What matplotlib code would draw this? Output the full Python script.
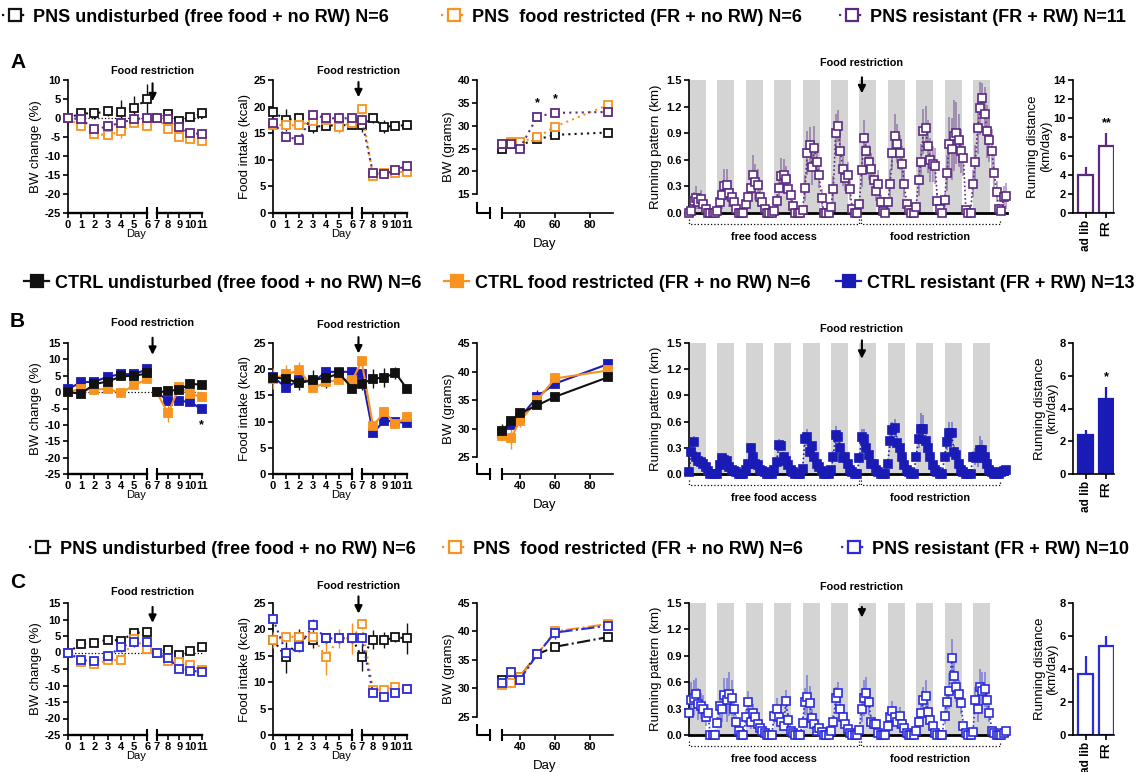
import numpy as np
import matplotlib.pyplot as plt
from matplotlib.lines import Line2D

plt.rcParams['font.family'] = ['Liberation Sans', 'DejaVu Sans']
plt.rcParams['font.weight'] = 'bold'
plt.rcParams['axes.linewidth'] = 1.2
plt.rcParams['axes.unicode_minus'] = False

W, H = 1144, 772

BLACK = '#111111'
ORANGE = '#F7931E'
PURPLE = '#5B2A80'
BLUE_B = '#1A1AB5'
BLUE_C = '#2B2BD9'
GRAY = '#D4D4D4'

days = np.arange(12)
bw_days = [30, 35, 40, 50, 60, 90]
dark_days = np.arange(11)

# ---- row A: PNS, N=6/6/11 ----
a_bwc_und = [0, 1.2, 1.2, 1.8, 1.7, 2.7, 5.0, 0, 1.0, -0.8, 0.2, 1.2]
a_bwc_und_e = [0, 1.2, 1.5, 1.2, 3.0, 3.0, 4.0, 0.4, 1.0, 1.0, 1.0, 1.2]
a_bwc_fr = [0, -2.2, -4.2, -4.5, -3.5, -1.3, -2.0, 0, -2.8, -5.0, -5.5, -6.0]
a_bwc_fr_e = [0, 0.6, 0.6, 0.8, 1.8, 0.6, 0.8, 0.3, 0.6, 0.6, 0.6, 0.6]
a_bwc_res = [0, -0.3, -3.0, -2.2, -1.2, -0.3, 0.0, 0, -0.2, -2.5, -4.0, -4.2]
a_bwc_res_e = [0, 0.8, 1.0, 1.0, 1.0, 0.8, 0.8, 0.3, 0.6, 0.8, 0.8, 0.8]

a_fi_und = [19.0, 17.5, 17.8, 16.2, 16.4, 16.5, 16.5, 16.5, 17.8, 16.2, 16.4, 16.5]
a_fi_und_e = [0.8, 2.0, 0.8, 1.2, 0.8, 0.8, 0.8, 1.2, 0.8, 1.2, 0.5, 0.5]
a_fi_fr = [16.5, 16.5, 16.5, 17.3, 17.5, 16.2, 17.0, 19.5, 7.0, 7.6, 7.6, 7.8]
a_fi_fr_e = [0.8, 0.8, 0.8, 1.5, 0.8, 1.2, 0.8, 0.8, 0.5, 0.5, 0.5, 0.4]
a_fi_res = [17.0, 14.3, 13.8, 18.5, 17.8, 17.8, 17.8, 17.5, 7.5, 7.3, 8.1, 8.9]
a_fi_res_e = [0.8, 0.8, 0.8, 0.8, 0.8, 0.8, 0.8, 0.8, 0.5, 0.5, 0.5, 0.5]

a_bw_und = [25.0, 26.0, 25.8, 27.0, 28.0, 28.5]
a_bw_fr = [26.0, 26.5, 26.5, 27.5, 29.8, 34.5]
a_bw_res = [26.0, 26.0, 25.0, 32.0, 32.8, 33.0]

a_run = [
    0, 0.02, 0.14, 0.17, 0.12, 0.16, 0.10, 0.04, 0, 0, 0, 0,
    0.02, 0.12, 0.20, 0.30, 0.32, 0.22, 0.18, 0.12, 0.04, 0, 0, 0,
    0.10, 0.18, 0.28, 0.43, 0.35, 0.32, 0.18, 0.12, 0.05, 0, 0, 0,
    0.02, 0.13, 0.28, 0.42, 0.43, 0.38, 0.27, 0.20, 0.08, 0, 0, 0,
    0.03, 0.28, 0.68, 0.77, 0.52, 0.73, 0.58, 0.43, 0.17, 0, 0, 0,
    0.07, 0.27, 0.90, 0.98, 0.70, 0.50, 0.40, 0.43, 0.27, 0.05, 0, 0,
    0.10, 0.49, 0.85, 0.70, 0.57, 0.50, 0.37, 0.25, 0.33, 0.12, 0.02, 0,
    0.12, 0.33, 0.68, 0.87, 0.78, 0.68, 0.55, 0.33, 0.10, 0.03, 0, 0,
    0.07, 0.37, 0.58, 0.92, 0.96, 0.75, 0.60, 0.55, 0.53, 0.14, 0.05, 0,
    0.15, 0.45, 0.78, 0.72, 0.87, 0.90, 0.82, 0.70, 0.62, 0.03, 0, 0,
    0.33, 0.57, 0.96, 1.18, 1.30, 1.12, 0.92, 0.82, 0.70, 0.45, 0.24, 0.05,
    0.02, 0.18, 0.19,
]
a_run_e = [
    0, 0.02, 0.10, 0.13, 0.08, 0.10, 0.07, 0.03, 0, 0, 0, 0,
    0.02, 0.08, 0.15, 0.20, 0.18, 0.15, 0.10, 0.08, 0.03, 0, 0, 0,
    0.06, 0.10, 0.15, 0.22, 0.20, 0.18, 0.10, 0.07, 0.03, 0, 0, 0,
    0.02, 0.08, 0.15, 0.20, 0.18, 0.15, 0.12, 0.10, 0.05, 0, 0, 0,
    0.02, 0.15, 0.25, 0.20, 0.20, 0.25, 0.20, 0.15, 0.10, 0, 0, 0,
    0.05, 0.15, 0.22, 0.18, 0.20, 0.20, 0.15, 0.15, 0.12, 0.03, 0, 0,
    0.06, 0.20, 0.20, 0.20, 0.20, 0.18, 0.15, 0.12, 0.15, 0.08, 0.02, 0,
    0.06, 0.15, 0.20, 0.25, 0.22, 0.20, 0.20, 0.15, 0.06, 0.02, 0, 0,
    0.05, 0.18, 0.20, 0.25, 0.25, 0.30, 0.25, 0.20, 0.20, 0.08, 0.03, 0,
    0.08, 0.20, 0.30, 0.35, 0.40, 0.35, 0.30, 0.25, 0.20, 0.02, 0, 0,
    0.15, 0.20, 0.30, 0.30, 0.17, 0.30, 0.30, 0.25, 0.25, 0.20, 0.12, 0.03,
    0.01, 0.12, 0.15,
]
a_dist = [4.0, 7.0]
a_dist_e = [0.8, 1.4]

# ---- row B: CTRL, N=6/6/13 ----
b_bwc_und = [0, -0.5, 2.5, 3.2, 4.8, 5.0, 5.7, 0, 0.3, 0.8, 2.5, 2.3]
b_bwc_und_e = [0.4, 0.6, 0.8, 0.8, 1.0, 0.8, 1.0, 0.3, 0.5, 0.6, 0.6, 0.6]
b_bwc_fr = [0, 1.0, 0.8, 1.0, -0.3, 2.2, 4.0, 0, -6.5, 1.5, -0.5, -1.5]
b_bwc_fr_e = [0.4, 0.8, 0.8, 0.8, 1.2, 0.8, 0.8, 0.3, 2.5, 1.0, 0.8, 1.0]
b_bwc_res = [1.0, 3.0, 3.2, 4.7, 5.5, 5.5, 7.0, 0, -2.7, -2.7, -3.0, -5.3]
b_bwc_res_e = [0.4, 0.6, 0.6, 0.6, 0.8, 0.6, 0.8, 0.3, 0.6, 0.6, 0.6, 0.8]

b_fi_und = [18.4, 18.2, 17.3, 18.0, 18.3, 19.2, 16.3, 17.2, 18.2, 18.4, 19.3, 16.3]
b_fi_und_e = [0.8, 1.2, 1.2, 1.8, 1.8, 1.2, 0.8, 1.2, 1.8, 1.8, 1.2, 0.6]
b_fi_fr = [18.2, 19.0, 19.8, 16.4, 17.5, 18.0, 18.0, 21.5, 9.2, 11.8, 9.6, 10.8]
b_fi_fr_e = [2.0, 1.8, 1.5, 0.8, 0.8, 0.8, 0.8, 0.8, 0.6, 0.8, 0.6, 0.6]
b_fi_res = [18.5, 16.5, 18.0, 17.5, 19.5, 19.5, 19.5, 19.0, 7.8, 10.2, 10.0, 9.7]
b_fi_res_e = [0.6, 0.6, 0.6, 0.6, 0.6, 0.6, 0.6, 0.6, 0.5, 0.5, 0.5, 0.5]

b_bw_und = [29.6, 31.3, 32.7, 34.1, 35.6, 39.0]
b_bw_und_e = [1.2, 0.6, 0.5, 0.5, 0.5, 0.5]
b_bw_fr = [28.8, 28.4, 31.3, 35.0, 38.8, 40.2]
b_bw_fr_e = [0.8, 2.0, 1.0, 0.8, 0.8, 0.5]
b_bw_res = [29.3, 30.7, 31.9, 35.6, 37.9, 41.3]
b_bw_res_e = [0.6, 0.6, 0.6, 1.2, 0.6, 0.5]

b_run = [
    0.02, 0.25, 0.37, 0.20, 0.15, 0.14, 0.12, 0.08, 0.03, 0, 0, 0,
    0, 0.10, 0.18, 0.16, 0.15, 0.08, 0.05, 0.04, 0.02, 0, 0, 0,
    0.05, 0.12, 0.30, 0.20, 0.12, 0.10, 0.05, 0.04, 0.02, 0, 0, 0,
    0.05, 0.14, 0.33, 0.32, 0.20, 0.15, 0.10, 0.05, 0.02, 0, 0, 0,
    0.06, 0.40, 0.42, 0.25, 0.32, 0.20, 0.12, 0.08, 0.03, 0, 0, 0,
    0.05, 0.20, 0.45, 0.42, 0.30, 0.18, 0.20, 0.12, 0.05, 0.02, 0, 0,
    0.18, 0.42, 0.40, 0.30, 0.22, 0.12, 0.12, 0.05, 0.02, 0, 0, 0,
    0.12, 0.38, 0.50, 0.53, 0.35, 0.30, 0.20, 0.10, 0.05, 0.02, 0, 0,
    0.20, 0.40, 0.52, 0.52, 0.38, 0.30, 0.20, 0.10, 0.05, 0.02, 0, 0,
    0.20, 0.37, 0.47, 0.47, 0.25, 0.22, 0.12, 0.05, 0.02, 0, 0, 0,
    0.20, 0.20, 0.18, 0.28, 0.27, 0.20, 0.12, 0.05, 0.02, 0, 0, 0,
    0.02, 0.04, 0.05,
]
b_run_e = [
    0.02, 0.06, 0.06, 0.06, 0.05, 0.04, 0.04, 0.03, 0.01, 0, 0, 0,
    0, 0.03, 0.04, 0.04, 0.03, 0.02, 0.02, 0.02, 0.01, 0, 0, 0,
    0.02, 0.04, 0.06, 0.05, 0.04, 0.03, 0.02, 0.02, 0.01, 0, 0, 0,
    0.02, 0.04, 0.07, 0.06, 0.05, 0.04, 0.03, 0.02, 0.01, 0, 0, 0,
    0.03, 0.08, 0.10, 0.07, 0.06, 0.05, 0.04, 0.03, 0.01, 0, 0, 0,
    0.02, 0.06, 0.10, 0.08, 0.07, 0.05, 0.05, 0.04, 0.02, 0.01, 0, 0,
    0.05, 0.10, 0.12, 0.08, 0.06, 0.04, 0.04, 0.02, 0.01, 0, 0, 0,
    0.04, 0.08, 0.10, 0.10, 0.08, 0.07, 0.05, 0.03, 0.02, 0.01, 0, 0,
    0.05, 0.10, 0.18, 0.15, 0.10, 0.08, 0.06, 0.03, 0.02, 0.01, 0, 0,
    0.05, 0.10, 0.12, 0.12, 0.08, 0.06, 0.04, 0.02, 0.01, 0, 0, 0,
    0.06, 0.10, 0.10, 0.15, 0.12, 0.08, 0.05, 0.02, 0.01, 0, 0, 0,
    0.01, 0.01, 0.01,
]
b_dist = [2.4, 4.6]
b_dist_e = [0.3, 0.7]

# ---- row C: PNS, N=6/6/10 ----
c_bwc_und = [0, 2.7, 2.9, 3.9, 3.6, 6.0, 6.1, 0, 0.9, -0.8, 0.5, 1.7]
c_bwc_und_e = [0.3, 0.5, 0.5, 0.5, 0.6, 0.6, 0.6, 0.3, 0.5, 0.5, 0.5, 0.5]
c_bwc_fr = [0, -2.8, -3.6, -2.3, -2.3, 4.0, 1.2, 0, -2.7, -2.8, -3.8, -5.3]
c_bwc_fr_e = [0.3, 0.8, 0.8, 0.8, 0.8, 1.0, 1.2, 0.3, 0.6, 0.8, 0.6, 0.6]
c_bwc_res = [0, -2.3, -2.6, -1.1, 1.6, 3.2, 3.2, 0, -1.7, -5.0, -5.5, -5.9]
c_bwc_res_e = [0.3, 1.0, 1.2, 1.0, 1.5, 1.5, 1.5, 0.3, 1.0, 0.8, 1.2, 0.8]

c_fi_und = [18.0, 14.7, 18.5, 18.0, 18.3, 18.3, 18.3, 14.7, 18.0, 18.0, 18.5, 18.3]
c_fi_und_e = [1.0, 3.0, 1.5, 1.5, 1.0, 1.0, 1.0, 2.5, 1.8, 1.5, 0.8, 3.0]
c_fi_fr = [18.0, 18.6, 18.6, 18.6, 14.8, 18.3, 18.3, 21.0, 8.6, 8.6, 9.0, 8.7]
c_fi_fr_e = [1.5, 1.0, 1.0, 1.0, 3.5, 1.8, 3.0, 1.0, 0.6, 0.6, 0.6, 0.6]
c_fi_res = [22.0, 15.5, 16.6, 20.8, 18.3, 18.3, 18.3, 18.3, 8.0, 7.2, 8.0, 8.8]
c_fi_res_e = [0.8, 1.2, 0.8, 1.2, 0.8, 0.8, 0.8, 0.8, 0.5, 0.5, 0.5, 0.5]

c_bw_und = [31.5, 31.5, 32.0, 36.0, 37.3, 39.0]
c_bw_und_e = [0.6, 0.6, 0.6, 0.6, 0.6, 0.5]
c_bw_fr = [30.6, 31.0, 32.0, 36.0, 40.0, 41.3]
c_bw_fr_e = [0.6, 0.8, 0.6, 0.6, 0.8, 0.5]
c_bw_res = [31.0, 32.8, 31.5, 36.0, 39.8, 41.0]
c_bw_res_e = [0.8, 1.0, 0.8, 0.6, 1.2, 0.5]

c_run = [
    0.25, 0.40, 0.42, 0.47, 0.35, 0.33, 0.30, 0.20, 0.25, 0, 0, 0,
    0.14, 0.33, 0.30, 0.45, 0.40, 0.47, 0.42, 0.30, 0.15, 0.05, 0, 0,
    0.20, 0.38, 0.15, 0.25, 0.20, 0.12, 0.08, 0.05, 0.02, 0, 0, 0,
    0.22, 0.30, 0.20, 0.15, 0.10, 0.39, 0.17, 0.05, 0.02, 0, 0, 0,
    0.14, 0.38, 0.43, 0.36, 0.19, 0.12, 0.05, 0.08, 0.03, 0, 0, 0,
    0.05, 0.15, 0.42, 0.48, 0.30, 0.20, 0.13, 0.07, 0.02, 0, 0, 0,
    0.06, 0.30, 0.42, 0.48, 0.38, 0.15, 0.13, 0.12, 0.02, 0, 0, 0,
    0.10, 0.20, 0.27, 0.20, 0.15, 0.22, 0.13, 0.08, 0.02, 0, 0, 0,
    0.05, 0.15, 0.25, 0.40, 0.44, 0.26, 0.17, 0.10, 0.02, 0, 0, 0,
    0.22, 0.38, 0.50, 0.87, 0.67, 0.55, 0.47, 0.36, 0.10, 0.02, 0, 0,
    0.03, 0.40, 0.30, 0.55, 0.50, 0.52, 0.40, 0.25, 0.05, 0.02, 0, 0,
    0, 0.02, 0.05,
]
c_run_e = [
    0.15, 0.20, 0.20, 0.18, 0.18, 0.15, 0.15, 0.10, 0.10, 0, 0, 0,
    0.06, 0.15, 0.15, 0.20, 0.25, 0.25, 0.20, 0.15, 0.08, 0.03, 0, 0,
    0.10, 0.12, 0.08, 0.10, 0.10, 0.07, 0.05, 0.03, 0.01, 0, 0, 0,
    0.10, 0.12, 0.10, 0.08, 0.06, 0.12, 0.08, 0.03, 0.01, 0, 0, 0,
    0.06, 0.15, 0.25, 0.20, 0.10, 0.07, 0.03, 0.04, 0.02, 0, 0, 0,
    0.03, 0.08, 0.12, 0.12, 0.12, 0.10, 0.07, 0.04, 0.01, 0, 0, 0,
    0.03, 0.15, 0.20, 0.18, 0.15, 0.08, 0.06, 0.05, 0.01, 0, 0, 0,
    0.05, 0.10, 0.12, 0.10, 0.08, 0.10, 0.06, 0.04, 0.01, 0, 0, 0,
    0.03, 0.08, 0.12, 0.15, 0.18, 0.12, 0.08, 0.05, 0.01, 0, 0, 0,
    0.10, 0.15, 0.20, 0.22, 0.20, 0.18, 0.15, 0.12, 0.05, 0.01, 0, 0,
    0.02, 0.15, 0.15, 0.20, 0.22, 0.20, 0.15, 0.10, 0.03, 0.01, 0, 0,
    0, 0.01, 0.02,
]
c_dist = [3.7, 5.4]
c_dist_e = [1.1, 0.6]

legend_a = ['PNS undisturbed (free food + no RW) N=6',
            'PNS  food restricted (FR + no RW) N=6',
            'PNS resistant (FR + RW) N=11']
legend_b = ['CTRL undisturbed (free food + no RW) N=6',
            'CTRL food restricted (FR + no RW) N=6',
            'CTRL resistant (FR + RW) N=13']
legend_c = ['PNS undisturbed (free food + no RW) N=6',
            'PNS  food restricted (FR + no RW) N=6',
            'PNS resistant (FR + RW) N=10']


def fwd(d):
    d = np.asarray(d, float)
    return np.where(d <= 6, d, np.where(d <= 7, 6 + 0.7 * (d - 6), 6.7 + 0.85 * (d - 7)))


def inv(u):
    u = np.asarray(u, float)
    return np.where(u <= 6, u, np.where(u <= 6.7, 6 + (u - 6) / 0.7, 7 + (u - 6.7) / 0.85))


fig = plt.figure(figsize=(W / 100, H / 100), dpi=100)


def add_ax(left, top, right, bottom):
    ax = fig.add_axes([left / W, 1 - bottom / H, (right - left) / W, (bottom - top) / H])
    ax.spines[['top', 'right']].set_visible(False)
    ax.tick_params(width=1.2, length=3.5, labelsize=8, pad=1.5)
    return ax


def food_note(ax, x, ty, a0, a1):
    tr = ax.get_xaxis_transform()
    ax.annotate('', xy=(x, a1), xytext=(x, a0), xycoords=tr, textcoords=tr,
                arrowprops=dict(arrowstyle='-|>', color='k', lw=1.5, mutation_scale=11,
                                shrinkA=0, shrinkB=0), annotation_clip=False)
    ax.text(x, ty, 'Food restriction', transform=tr, ha='center', va='center',
            fontsize=7.8, clip_on=False)


def style(color, filled, ls):
    return dict(color=color, marker='s', ms=5.5, mfc=color if filled else 'white', mec=color,
                mew=1.3, ls=ls, lw=1.5, elinewidth=1, capsize=0, clip_on=False, zorder=3)


def day_panel(ax, series, ylim, yticks, label, split):
    ax.set_xscale('function', functions=(fwd, inv))
    ax.set_xlim(0, 11.2)
    ax.set_ylim(*ylim)
    ax.set_yticks(yticks)
    ax.set_xticks(days)
    ax.spines['bottom'].set_visible(False)
    tr = ax.get_xaxis_transform()
    ax.plot([0, 6], [0, 0], color='k', lw=1.7, transform=tr, clip_on=False)
    ax.plot([7, 11], [0, 0], color='k', lw=1.7, transform=tr, clip_on=False)
    ax.plot([6, 7], [0, 0], ls='none', marker='|', ms=9, mew=1.5, color='k',
            transform=tr, clip_on=False)
    if split:
        ax.axhline(0, color='k', ls=':', lw=0.9, zorder=1)
        parts = [slice(0, 7), slice(7, 12)]
    else:
        parts = [slice(0, 12)]
    for y, e, st in series:
        y, e = np.asarray(y), np.asarray(e)
        for p in parts:
            ax.errorbar(days[p], y[p], yerr=e[p], **st)
    ax.set_xlabel('Day', fontsize=8, labelpad=-1)
    ax.set_ylabel(label, fontsize=9.5, fontweight='normal', labelpad=2)


def bw_panel(ax, series, ylim, yticks):
    ax.set_xlim(15.7, 93)
    ax.set_ylim(*ylim)
    ax.set_yticks(yticks)
    ax.set_xticks([40, 60, 80])
    ax.spines['left'].set_bounds(yticks[0], yticks[-1])
    ax.spines['bottom'].set_bounds(30, 93)
    ax.plot([30], [0], ls='none', marker='|', ms=9, mew=1.5, color='k',
            transform=ax.get_xaxis_transform(), clip_on=False)
    ax.plot([0, 0, 0.096], [0.075, 0, 0], color='k', lw=1.5, transform=ax.transAxes, clip_on=False)
    ax.plot([0.096], [0], ls='none', marker='|', ms=9, mew=1.5, color='k',
            transform=ax.transAxes, clip_on=False)
    for y, e, st in series:
        ax.errorbar(bw_days, y, yerr=e, **st)
    ax.set_xlabel('Day', fontsize=9.5, labelpad=6)
    ax.set_ylabel('BW (grams)', fontsize=9.5, fontweight='normal', labelpad=2)


def run_panel(ax, vals, errs, color, filled):
    x = np.arange(len(vals)) / 12
    ax.bar(dark_days, 1.5, width=0.6, align='edge', color=GRAY, zorder=0)
    ax.errorbar(x, vals, yerr=errs, fmt='none', ecolor=color, elinewidth=1.3, alpha=0.45, zorder=1)
    ax.plot(x, vals, ls=(0, (1, 1.5)), lw=1.2, color=color, marker='s', ms=5.5,
            mfc=color if filled else 'white', mec=color, mew=1.2, clip_on=False, zorder=3)
    ax.set_xlim(0, 11.2)
    ax.set_ylim(0, 1.5)
    ax.set_yticks(np.arange(0, 1.51, 0.3), [f'{v:.1f}' for v in np.arange(0, 1.51, 0.3)])
    ax.set_xticks([])
    ax.spines['bottom'].set_linewidth(2)
    ax.set_ylabel('Running pattern (km)', fontsize=9.5, fontweight='normal', labelpad=3)
    tr = ax.get_xaxis_transform()
    ax.plot([0, 0, 6, 6], [-0.045, -0.085, -0.085, -0.045], color='k', lw=0.9, ls=':',
            transform=tr, clip_on=False)
    ax.plot([6.05, 6.05, 10.95, 10.95], [-0.045, -0.085, -0.085, -0.045], color='k', lw=0.9,
            ls=':', transform=tr, clip_on=False)
    ax.text(3, -0.18, 'free food access', transform=tr, ha='center', va='center', fontsize=7.8)
    ax.text(8.5, -0.18, 'food restriction', transform=tr, ha='center', va='center', fontsize=7.8)


def bar_panel(ax, vals, errs, color, filled, ymax, stars):
    ax.bar([0, 1], vals, width=0.7, color=color if filled else 'white', edgecolor=color, lw=1.6)
    ax.errorbar([0, 1], vals, yerr=[[0, 0], errs], fmt='none', ecolor=color, elinewidth=1.6,
                capsize=0)
    ax.set_xlim(-0.6, 1.36)
    ax.set_ylim(0, ymax)
    ax.set_yticks(np.arange(0, ymax + 1, 2))
    ax.set_xticks([0, 1], ['ad lib', 'FR'], rotation=90, fontsize=8.5)
    ax.text(1, vals[1] + errs[1] + ymax * 0.03, stars, ha='center', va='bottom', fontsize=9)
    ax.set_ylabel('Running distance\n(km/day)', fontsize=9.5, fontweight='normal', labelpad=1,
                  linespacing=1.1)


def legend_row(y, labels, colors, fills, ls, xs):
    for lab, col, fil, x0 in zip(labels, colors, fills, xs):
        h = Line2D([], [], color=col, ls=ls, lw=1.6, marker='s', ms=8, mew=1.6, mec=col,
                   mfc=col if fil else 'white')
        fig.legend(handles=[h], labels=[lab], loc='center left', bbox_to_anchor=(x0 / W, 1 - y / H),
                   frameon=False, fontsize=13, handlelength=1.4, handletextpad=0.3,
                   borderpad=0, borderaxespad=0)


rows = [
    dict(top=80, bot=213, letter='A', lety=62, legy=17, res=PURPLE, filled=False, ls=(0, (1, 2)),
         bw_ls=(0, (1, 2)),
         bwc=[(a_bwc_und, a_bwc_und_e), (a_bwc_fr, a_bwc_fr_e), (a_bwc_res, a_bwc_res_e)],
         fi=[(a_fi_und, a_fi_und_e), (a_fi_fr, a_fi_fr_e), (a_fi_res, a_fi_res_e)],
         bw=[(a_bw_und, None), (a_bw_fr, None), (a_bw_res, None)],
         run=(a_run, a_run_e), dist=(a_dist, a_dist_e, 14, '**'),
         bwc_ylim=(-25, 10), bw_ylim=(10.9, 40), bw_ticks=np.arange(15, 41, 5),
         labels=legend_a, legx=[2, 441, 839],
         notes=[(1.07, 0.975, 0.84), (1.07, 0.985, 0.87), (1.13, 1.02, 0.9)]),
    dict(top=343, bot=474, letter='B', lety=322, legy=283, res=BLUE_B, filled=True, ls='-',
         bw_ls='-',
         bwc=[(b_bwc_res, b_bwc_res_e), (b_bwc_fr, b_bwc_fr_e), (b_bwc_und, b_bwc_und_e)],
         fi=[(b_fi_res, b_fi_res_e), (b_fi_fr, b_fi_fr_e), (b_fi_und, b_fi_und_e)],
         bw=[(b_bw_res, b_bw_res_e), (b_bw_fr, b_bw_fr_e), (b_bw_und, b_bw_und_e)],
         run=(b_run, b_run_e), dist=(b_dist, b_dist_e, 8, '*'),
         bwc_ylim=(-25, 15), bw_ylim=(22.1, 45), bw_ticks=np.arange(25, 46, 5),
         labels=legend_b, legx=[24, 444, 836],
         notes=[(1.15, 1.04, 0.91), (1.14, 1.045, 0.92), (1.11, 1.02, 0.88)]),
    dict(top=603, bot=735, letter='C', lety=583, legy=549, res=BLUE_C, filled=False, ls=(0, (1, 2)),
         bw_ls='-.',
         bwc=[(c_bwc_und, c_bwc_und_e), (c_bwc_fr, c_bwc_fr_e), (c_bwc_res, c_bwc_res_e)],
         fi=[(c_fi_und, c_fi_und_e), (c_fi_fr, c_fi_fr_e), (c_fi_res, c_fi_res_e)],
         bw=[(c_bw_und, c_bw_und_e), (c_bw_fr, c_bw_fr_e), (c_bw_res, c_bw_res_e)],
         run=(c_run, c_run_e), dist=(c_dist, c_dist_e, 8, ''),
         bwc_ylim=(-25, 15), bw_ylim=(21.8, 45), bw_ticks=np.arange(25, 46, 5),
         labels=legend_c, legx=[29, 442, 841],
         notes=[(1.08, 0.97, 0.85), (1.13, 1.05, 0.92), (1.12, 0.97, 0.89)]),
]

for r in rows:
    top, bot = r['top'], r['bot']
    if r['filled']:
        cols = [r['res'], ORANGE, BLACK]
        fills = [True, True, True]
    else:
        cols = [BLACK, ORANGE, r['res']]
        fills = [False, False, False]
    styles = [style(c, f, r['ls']) for c, f in zip(cols, fills)]
    bw_styles = [style(c, f, r['bw_ls']) for c, f in zip(cols, fills)]

    ax1 = add_ax(68, top, 204, bot)
    day_panel(ax1, [(y, e, s) for (y, e), s in zip(r['bwc'], styles)], r['bwc_ylim'],
              np.arange(-25, r['bwc_ylim'][1] + 1, 5), 'BW change (%)', True)
    ax2 = add_ax(273, top, 409, bot)
    day_panel(ax2, [(y, e, s) for (y, e), s in zip(r['fi'], styles)], (0, 25),
              np.arange(0, 26, 5), 'Food intake (kcal)', False)
    ax3 = add_ax(477, top, 613, bot)
    bw_panel(ax3, [(y, e, s) for (y, e), s in zip(r['bw'], bw_styles)], r['bw_ylim'], r['bw_ticks'])
    ax4 = add_ax(689, top, 1007, bot)
    run_panel(ax4, r['run'][0], r['run'][1], r['res'], r['filled'])
    ax5 = add_ax(1073, top, 1114, bot)
    bar_panel(ax5, r['dist'][0], r['dist'][1], r['res'], r['filled'], r['dist'][2], r['dist'][3])

    n1, n2, n4 = r['notes']
    food_note(ax1, 6.55, n1[0], n1[1], n1[2])
    food_note(ax2, 6.65, n2[0], n2[1], n2[2])
    food_note(ax4, 6.09, n4[0], n4[1], n4[2])

    fig.text(10 / W, 1 - r['lety'] / H, r['letter'], fontsize=15, ha='left', va='center')

    order = [2, 1, 0] if r['filled'] else [0, 1, 2]
    legend_row(r['legy'], r['labels'], [cols[i] for i in order], [fills[i] for i in order],
               r['ls'], r['legx'])

    if r['letter'] == 'A':
        for d in [50, 60]:
            ax3.text(d, a_bw_res[bw_days.index(d)] + 1.6, '*', ha='center', va='bottom', fontsize=9)
    if r['letter'] == 'B':
        ax1.text(11, b_bwc_res[11] - 3.0, '*', ha='center', va='top', fontsize=9)

fig.savefig('out.png', dpi=100)
